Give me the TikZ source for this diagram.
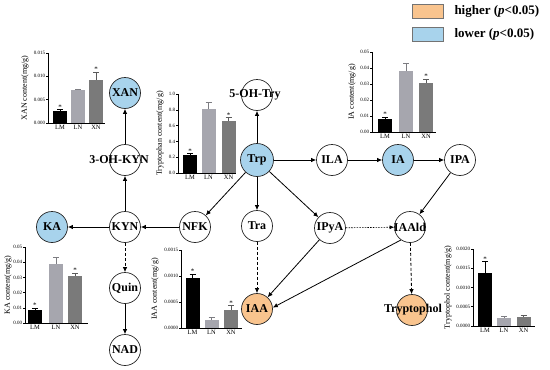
\documentclass[tikz,border=0pt]{standalone}
\usepackage{fontspec}
\setmainfont{Liberation Serif}
\usetikzlibrary{arrows.meta}
\usetikzlibrary{positioning}
\definecolor{lowblue}{RGB}{168,211,236}
\definecolor{highorange}{RGB}{249,196,142}
\definecolor{barLM}{RGB}{0,0,0}
\definecolor{barLN}{RGB}{166,166,174}
\definecolor{barXN}{RGB}{122,122,122}

\tikzset{
met/.style={circle, draw=black!85, line width=0.7pt, minimum size=31pt, inner sep=0pt, font=\fontsize{12}{12}\selectfont\bfseries},
low/.style={met, fill=lowblue},
high/.style={met, fill=highorange},
metlab/.style={inner sep=0pt, font=\fontsize{12}{12}\selectfont\bfseries},
flow/.style={-{Latex[length=5pt,width=4.5pt]}, line width=0.8pt},
guess/.style={flow, dash pattern=on 3pt off 2pt},
faint/.style={-{Latex[length=4.5pt,width=4pt]}, line width=0.6pt, dash pattern=on 1.5pt off 1.2pt},
axisline/.style={line width=0.9pt},
ticklab/.style={left, inner sep=0.8pt, font=\fontsize{5}{5}\selectfont},
grplab/.style={below, inner sep=1pt, font=\fontsize{6.5}{7}\selectfont},
ylab/.style={rotate=90, inner sep=0pt, font=\fontsize{8}{8}\selectfont},
sig/.style={inner sep=0pt, font=\fontsize{7}{7}\selectfont},
keybox/.style={rectangle, draw=black!55, line width=0.6pt, minimum width=31pt, minimum height=14pt, inner sep=0pt},
keytext/.style={inner sep=0pt, font=\fontsize{13}{13}\selectfont\bfseries},
}

% #1 prefix, #2 corner, #3 height, #4 axis max, #5 ticks, #6 bars, #7 axis length, #8 y label, #9 label offset
\newcommand{\barchart}[9]{%
\begin{scope}[shift={#2}, y=1pt]
\draw[axisline] (0,#3) -- (0,0) -- (#7,0);
\foreach \v/\t in {#5}
  \draw[line width=0.6pt] (0,{\v*#3/#4}) -- ++(-1.8,0) node[ticklab, name=#1t\v] {\t};
\foreach \c/\g/\h/\e/\s in {#6}{
  \pgfmathsetmacro{\bartop}{\h*#3/#4}
  \pgfmathsetmacro{\barerr}{(\h+\e)*#3/#4}
  \fill[fill=bar\g] (\c-7,0) rectangle (\c+7,\bartop);
  \draw[draw=bar\g!75!black, line width=0.7pt] (\c,\bartop) -- (\c,\barerr) (\c-3,\barerr) -- (\c+3,\barerr);
  \node[grplab, name=#1\g] at (\c,-1.5) {\g};
  \ifnum\s=1 \node[sig, name=#1s\g] at (\c,\barerr+2.5) {*};\fi
}
\node[ylab, name=#1y] at (-#9,#3/2) {#8};
\end{scope}}

\begin{document}
\begin{tikzpicture}[x=1pt, y=-1pt]
\useasboundingbox (0,0) rectangle (550,370);

%pathway
\node[low, minimum size=33pt] (trp) at (257,160) {Trp};
\node[met] (ohtry) at (257,95) {};
\node[metlab] (ohtrylab) at (255,95) {5-OH-Try};
\node[met] (ila) at (332,160) {ILA};
\node[low] (ia) at (398,160) {IA};
\node[met] (ipa) at (460,160) {IPA};
\node[met] (nfk) at (195,227) {NFK};
\node[met] (tra) at (257,226) {Tra};
\node[met] (ipya) at (330,228) {IPyA};
\node[met] (iaald) at (410,227) {};
\node[metlab] (iaaldlab) at (iaald) {IAAld};
\node[high] (iaa) at (257,309) {IAA};
\node[high] (tol) at (412,310) {};
\node[metlab] (tollab) at (413,310) {Tryptophol};
\node[met] (kyn) at (125,227) {KYN};
\node[low] (ka) at (52,227) {KA};
\node[met] (ohkyn) at (125,160) {};
\node[metlab] (ohkynlab) at (119,160) {3-OH-KYN};
\node[low] (xan) at (125,93) {XAN};
\node[met] (quin) at (125,288) {Quin};
\node[met] (nad) at (125,350) {NAD};

%arrows
\draw[flow] (trp) -- (ohtry);
\draw[flow] (trp) -- (ila);
\draw[flow] (ila) -- (ia);
\draw[flow] (ia) -- (ipa);
\draw[flow] (trp) -- (nfk);
\draw[flow] (trp) -- (tra);
\draw[flow] (trp) -- (ipya);
\draw[flow] (nfk) -- (kyn);
\draw[flow] (kyn) -- (ka);
\draw[flow] (kyn) -- (ohkyn);
\draw[flow] (ohkyn) -- (xan);
\draw[guess] (kyn) -- (quin);
\draw[flow] (quin) -- (nad);
\draw[guess] (tra) -- (iaa);
\draw[flow] (ipya) -- (iaa);
\draw[faint] (ipya) -- (iaald);
\draw[flow] (ipa) -- (iaald);
\draw[flow] (iaald.235) -- (iaa.5);
\draw[guess] (iaald) -- (tol);

%charts
\barchart{xanc}{(48,123)}{70}{15}{0/0.000,5/0.005,10/0.010,15/0.015}{12/LM/2.6/0.3/1,30/LN/7.1/0.15/0,48/XN/9.3/1.6/1}{57}{XAN content(mg/g)}{23}
\barchart{trpc}{(178,173)}{79}{10}{0/0.0,2/0.2,4/0.4,6/0.6,8/0.8,10/1.0}{12/LM/2.3/0.15/1,30.5/LN/8.1/0.9/0,50.5/XN/6.6/0.45/1}{58}{Tryptophan content(mg/g)}{18}
\barchart{iac}{(372,132)}{80}{5}{0/0.00,1/0.01,2/0.02,3/0.03,4/0.04,5/0.05}{13/LM/0.81/0.13/1,34/LN/3.81/0.5/0,54/XN/3.06/0.25/1}{64}{IA content(mg/g)}{20}
\barchart{kac}{(25,323)}{76}{5}{0/0.00,1/0.01,2/0.02,3/0.03,4/0.04,5/0.05}{10/LM/0.86/0.12/1,31/LN/3.88/0.46/0,50/XN/3.09/0.2/1}{63}{KA content(mg/g)}{17}
\barchart{iaac}{(181,328)}{78}{15}{0/0.0000,5/0.0005,10/0.0010,15/0.0015}{11.5/LM/9.6/0.8/1,30.5/LN/1.5/0.6/0,50/XN/3.5/0.8/1}{61}{IAA content(mg/g)}{26}
\barchart{tolc}{(473,326)}{77}{20}{0/0.0000,5/0.0005,10/0.0010,15/0.0015,20/0.0020}{12/LM/13.8/2.9/1,31/LN/2.1/0.3/0,50.5/XN/2.3/0.4/0}{62}{Tryptophol content(mg/g)}{25}

%legend
\node[keybox, fill=highorange] (hikey) at (427.5,11) {};
\node[keytext, right=11pt of hikey] (hitext) {higher (\textit{p}<0.05)};
\node[keybox, fill=lowblue] (lokey) at (427.5,34) {};
\node[keytext, right=11pt of lokey] (lotext) {lower (\textit{p}<0.05)};
\end{tikzpicture}
\end{document}
